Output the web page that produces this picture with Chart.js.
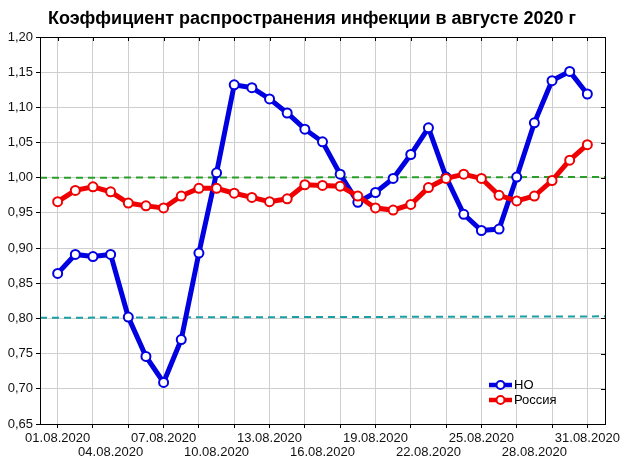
<!DOCTYPE html>
<html>
<head>
<meta charset="utf-8">
<script src="https://cdn.jsdelivr.net/npm/chart.js@4.4.1/dist/chart.umd.min.js"></script>
<style>
  html, body { margin: 0; padding: 0; background: #fff; }
  #wrap { width: 624px; height: 468px; }
</style>
</head>
<body>
<div id="wrap"><canvas id="myChart" width="624" height="468"></canvas></div>
<script>
  "use strict";

  // days of August 2020
  const days = [1, 2, 3, 4, 5, 6, 7, 8, 9, 10, 11, 12, 13, 14, 15, 16,
    17, 18, 19, 20, 21, 22, 23, 24, 25, 26, 27, 28, 29, 30, 31];

  const noValues = [0.864, 0.891, 0.888, 0.891, 0.802, 0.746, 0.709, 0.770,
    0.893, 1.007, 1.132, 1.128, 1.112, 1.092, 1.069, 1.051, 1.005, 0.965,
    0.979, 0.999, 1.033, 1.071, 1.001, 0.948, 0.925, 0.927, 1.001, 1.078,
    1.138, 1.151, 1.119];

  const russiaValues = [0.966, 0.982, 0.987, 0.980, 0.964, 0.960, 0.957, 0.974,
    0.985, 0.985, 0.978, 0.972, 0.966, 0.970, 0.990, 0.989, 0.988, 0.974,
    0.957, 0.954, 0.962, 0.986, 0.999, 1.005, 0.999, 0.975, 0.967, 0.974,
    0.996, 1.025, 1.047];

  // reference levels, from the left edge (day 0) to the right edge (day 32)
  const refDays = [0, 32];
  const greenLevel = [1.0, 1.001];
  const tealLevel = [0.801, 0.803];

  const yTicks = [0.65, 0.70, 0.75, 0.80, 0.85, 0.90, 0.95, 1.00, 1.05, 1.10, 1.15, 1.20];

  const toPoints = (xs, ys) => xs.map((x, i) => ({ x: x, y: ys[i] }));
  const dateLabel = (d) => String(d).padStart(2, "0") + ".08.2020";

  const BLUE = "rgb(0, 0, 225)";
  const RED = "rgb(240, 0, 0)";
  const GRID = "#cfcfcf";
  const FONT = "'Liberation Sans', Arial, sans-serif";

  // frame round the plot area plus small inward ticks on top and right
  const framePlugin = {
    id: "frame",
    afterDraw(chart) {
      const { ctx, chartArea: a, scales } = chart;
      ctx.save();
      ctx.strokeStyle = "#000";
      ctx.lineWidth = 1;
      ctx.strokeRect(a.left + 0.5, a.top + 0.5, a.right - a.left, a.bottom - a.top);
      ctx.beginPath();
      for (let d = 1; d <= 31; d += 2) {
        const x = Math.round(scales.x.getPixelForValue(d)) + 0.5;
        ctx.moveTo(x, a.top);
        ctx.lineTo(x, a.top + 4);
      }
      yTicks.forEach((v) => {
        const y = Math.round(scales.y.getPixelForValue(v)) + 0.5;
        ctx.moveTo(a.right, y);
        ctx.lineTo(a.right - 4, y);
      });
      ctx.stroke();
      ctx.restore();
    },
  };

  // small legend inside the plot, bottom right
  const legendPlugin = {
    id: "boxLegend",
    afterDraw(chart) {
      const { ctx } = chart;
      const items = [
        { label: "НО", color: BLUE },
        { label: "Россия", color: RED },
      ];
      ctx.save();
      ctx.font = "13px " + FONT;
      ctx.textBaseline = "middle";
      items.forEach((it, i) => {
        const y = 385 + i * 15;
        ctx.strokeStyle = it.color;
        ctx.lineWidth = 4.5;
        ctx.beginPath();
        ctx.moveTo(489, y);
        ctx.lineTo(512, y);
        ctx.stroke();
        ctx.beginPath();
        ctx.arc(500.5, y, 4, 0, Math.PI * 2);
        ctx.fillStyle = "#fff";
        ctx.fill();
        ctx.lineWidth = 2;
        ctx.stroke();
        ctx.fillStyle = "#000";
        ctx.fillText(it.label, 514, y);
      });
      ctx.restore();
    },
  };

  const ctx = document.getElementById("myChart").getContext("2d");
  const chart = new Chart(ctx, {
    type: "line",
    data: {
      datasets: [
        {
          label: "НО",
          data: toPoints(days, noValues),
          borderColor: BLUE,
          borderWidth: 5,
          pointRadius: 4.5,
          pointBorderWidth: 2,
          pointBackgroundColor: "#fff",
          pointBorderColor: BLUE,
          tension: 0,
          order: 2,
        },
        {
          label: "Россия",
          data: toPoints(days, russiaValues),
          borderColor: RED,
          borderWidth: 5,
          pointRadius: 4.5,
          pointBorderWidth: 2,
          pointBackgroundColor: "#fff",
          pointBorderColor: RED,
          tension: 0,
          order: 1,
        },
        {
          label: "1,0",
          data: toPoints(refDays, greenLevel),
          borderColor: "rgb(40, 160, 40)",
          borderWidth: 2,
          borderDash: [7, 5],
          pointRadius: 0,
          order: 3,
        },
        {
          label: "0,8",
          data: toPoints(refDays, tealLevel),
          borderColor: "rgb(25, 160, 165)",
          borderWidth: 2,
          borderDash: [7, 5],
          pointRadius: 0,
          order: 4,
        },
      ],
    },
    options: {
      responsive: false,
      animation: false,
      layout: { padding: 0 },
      scales: {
        x: {
          type: "linear",
          min: 0,
          max: 32,
          afterFit: (scale) => { scale.height = 44; },
          afterBuildTicks: (scale) => {
            scale.ticks = [];
            for (let d = 0; d <= 32; d++) scale.ticks.push({ value: d });
          },
          ticks: {
            autoSkip: false,
            maxRotation: 0,
            padding: 4,
            color: "#111",
            font: { family: FONT, size: 13, lineHeight: 1.03 },
            callback: (v) => {
              if (v < 1 || v > 31 || (v - 1) % 3 !== 0) return "";
              const row = ((v - 1) / 3) % 2;
              return row === 0 ? [dateLabel(v)] : ["", dateLabel(v)];
            },
          },
          grid: {
            color: (c) => (c.tick && c.tick.value % 2 === 1 ? GRID : "rgba(0,0,0,0)"),
            tickColor: (c) => (c.tick && c.tick.value % 2 === 1 ? "#000" : "rgba(0,0,0,0)"),
            tickLength: 4,
          },
          border: { color: "#000" },
        },
        y: {
          min: 0.65,
          max: 1.2,
          afterFit: (scale) => { scale.width = 40; },
          afterBuildTicks: (scale) => {
            scale.ticks = yTicks.map((v) => ({ value: v }));
          },
          ticks: {
            padding: 3,
            color: "#111",
            font: { family: FONT, size: 13 },
            callback: (v) => v.toFixed(2).replace(".", ","),
          },
          grid: { color: GRID, tickColor: "#000", tickLength: 4 },
          border: { color: "#000" },
        },
        // empty right-hand axis, only keeps a margin so the title stays centred on the page
        yRight: {
          position: "right",
          min: 0.65,
          max: 1.2,
          afterFit: (scale) => { scale.width = 19; },
          ticks: { display: false },
          grid: { display: false, drawTicks: false },
          border: { display: false },
        },
      },
      plugins: {
        legend: { display: false },
        tooltip: { enabled: false },
        title: {
          display: true,
          text: "Коэффициент распространения инфекции в августе 2020 г",
          color: "#000",
          font: { family: FONT, size: 18, weight: "bold", lineHeight: 1.2 },
          padding: { top: 8, bottom: 7.4 },
        },
      },
    },
    plugins: [framePlugin, legendPlugin],
  });
</script>
</body>
</html>
